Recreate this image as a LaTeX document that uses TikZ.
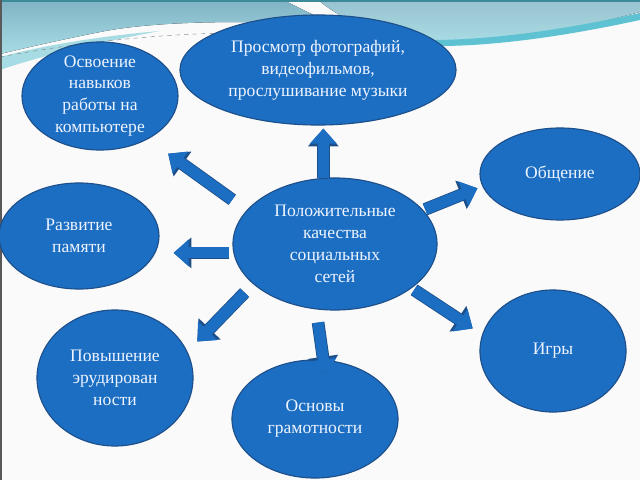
\documentclass[tikz,border=0pt]{standalone}
\usepackage{fontspec}
\setmainfont{Liberation Serif}
\usetikzlibrary{shapes.geometric,arrows.meta}
\definecolor{ovalblue}{HTML}{1C6EC2}
\definecolor{ovaledge}{HTML}{1D4F8A}
\definecolor{labelwhite}{HTML}{EEF4FF}
\definecolor{wavetop}{HTML}{7FB3C4}
\definecolor{wavelow}{HTML}{A8DCE4}
\definecolor{wavecyan}{HTML}{5EC2D2}
\definecolor{wavedark}{HTML}{3D8A98}

\begin{document}
\begin{tikzpicture}[x=0.025cm, y=-0.025cm,
    oval/.style={ellipse, draw=ovaledge, line width=0.8pt, fill=ovalblue, inner sep=0pt},
    words/.style={text=labelwhite, align=center, font=\fontsize{12.5}{15.6}\selectfont},
    blk/.style={ovalblue, line width=7.8pt, -{Triangle[width=18.5pt, length=10.7pt]},
      preaction={draw=ovaledge, line width=9pt, -{Triangle[width=21pt, length=12.6pt]}}}]
    \useasboundingbox (0,0) rectangle (640,480);
    \fill[white!98!black] (0,0) rectangle (640,480);

    % waves at the top
    \fill[top color=wavetop, bottom color=wavelow] (0,0) -- (283,0) .. controls (300,8) and (318,18) .. (335,24) .. controls (250,21) and (160,20) .. (100,32) .. controls (60,40) and (25,48) .. (0,54) -- cycle;
    \fill[wavelow] (0,57) .. controls (40,46) and (100,36) .. (160,31) .. controls (100,42) and (40,56) .. (0,70) -- cycle;
    \draw[gray, dashed, line width=0.3pt] (0,57) .. controls (80,42) and (160,34) .. (230,33);
    \fill[top color=wavetop!80!white, bottom color=wavelow] (318,0) -- (640,0) -- (640,12) .. controls (580,28) and (500,42) .. (440,43) .. controls (390,43) and (345,22) .. (318,0) -- cycle;
    \fill[wavecyan] (420,40) .. controls (500,41) and (580,26) .. (640,13) -- (640,20) .. controls (580,33) and (500,47) .. (430,46) -- cycle;
    \fill[wavedark] (0,0) rectangle (640,2);
    \fill[gray!70!black] (0,0) rectangle (2,480);

    \node[oval, minimum width=5.1cm, minimum height=3.3cm] (ctr) at (335,244) {};
    \node[words] (ctr-t) at (ctr) {Положительные\\качества\\социальных\\сетей};

    \node[oval, minimum width=6.9cm, minimum height=2.75cm] (foto) at (318,70) {};
    \node[words] (foto-t) at (foto) {Просмотр фотографий,\\видеофильмов,\\прослушивание музыки};

    \node[oval, minimum width=3.9cm, minimum height=2.7cm] (osv) at (100,96) {};
    \node[words] (osv-t) at (osv) {Освоение\\навыков\\работы на\\компьютере};

    \node[oval, minimum width=4cm, minimum height=2.65cm] (razv) at (79,236) {};
    \node[words] (razv-t) at (razv) {Развитие\\памяти};

    \node[oval, minimum width=3.9cm, minimum height=3.4cm] (pov) at (115,378) {};
    \node[words] (pov-t) at (pov) {Повышение\\эрудирован\\ности};

    \node[oval, minimum width=4.15cm, minimum height=2.95cm] (osn) at (315,419) {};
    \node[words] (osn-t) at (osn) {Основы\\грамотности};

    \node[oval, minimum width=4cm, minimum height=2.3cm] (obsch) at (560,174) {};
    \node[words] (obsch-t) at (obsch) {Общение};

    \node[oval, minimum width=3.65cm, minimum height=3.05cm] (igry) at (553,351) {};
    \node[words] (igry-t) at (igry) {Игры};

    % block arrows
    \draw[blk, shorten >=0.075cm] (ctr.100) -- (ctr.100 |- foto.south);
    \draw[blk, shorten <=0.445cm, shorten >=0.62cm] (ctr.159) -- (osv.-42);
    \draw[blk, shorten <=0.1cm, shorten >=0.35cm] (ctr.185) -- (ctr.185 -| razv.east);
    \draw[blk, shorten <=0.3cm, shorten >=0.35cm] (ctr.206) -- (pov.20);
    \draw[blk, shorten <=0.33cm, shorten >=-0.37cm] (ctr.-106) -- (osn.82);
    \draw[blk, shorten <=0.05cm, shorten >=0.13cm] (ctr.21) -- (obsch.189);
    \draw[blk, shorten <=0.075cm, shorten >=0.28cm] (ctr.-30) -- (igry.167);
\end{tikzpicture}
\end{document}
